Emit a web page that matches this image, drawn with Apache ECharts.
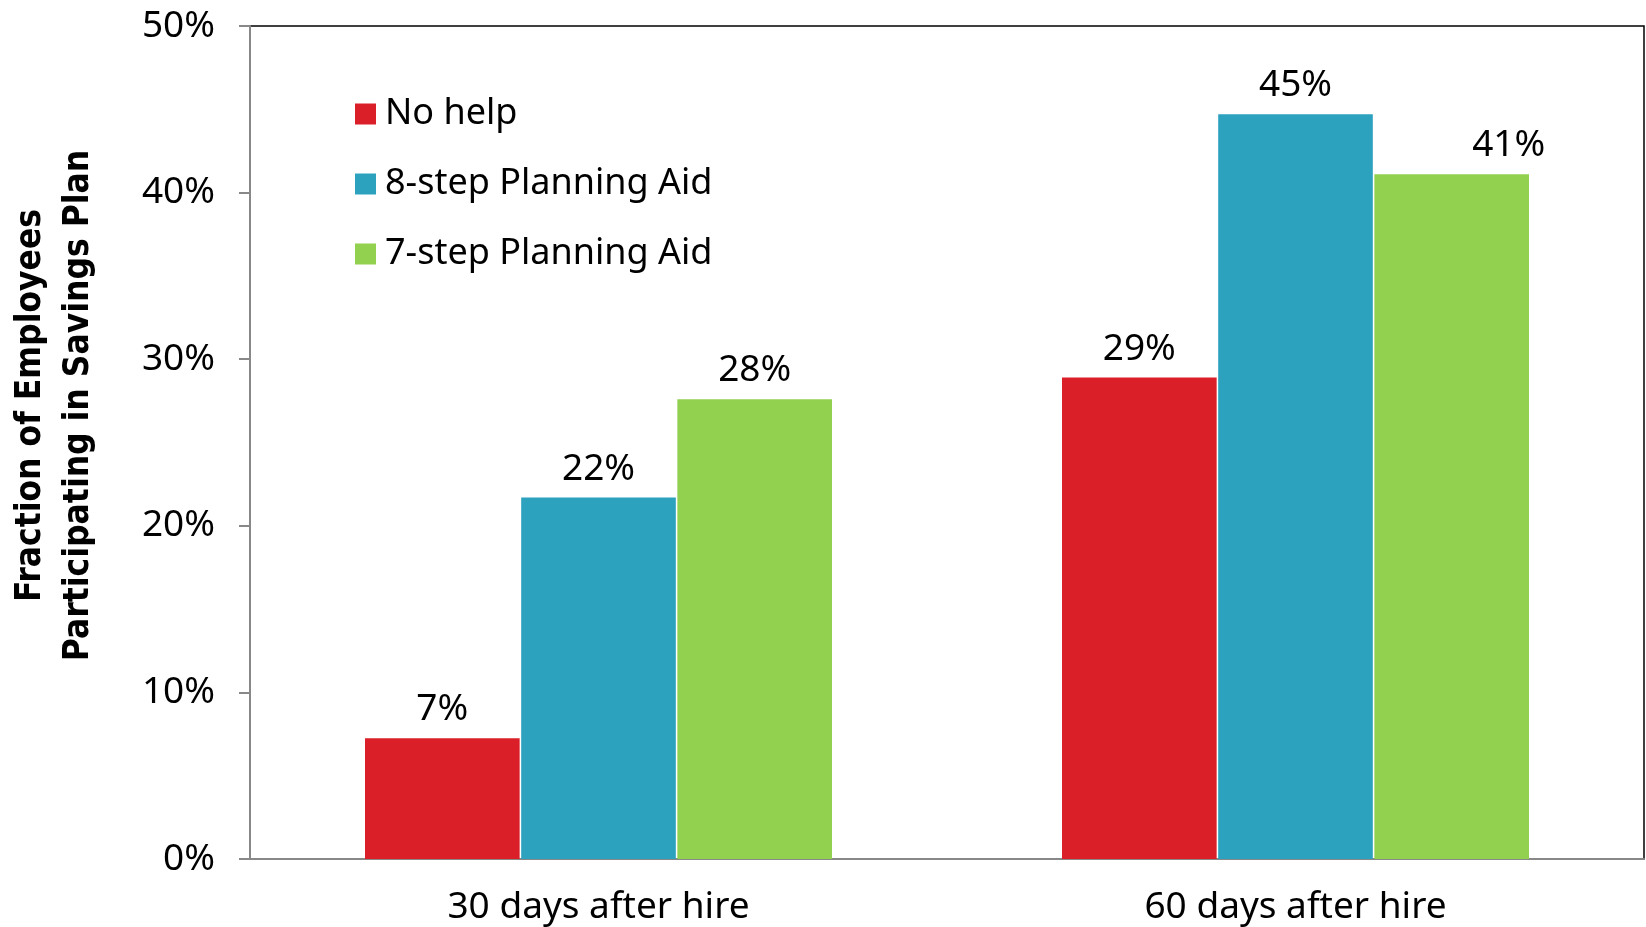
<!DOCTYPE html>
<html>
<head>
<meta charset="utf-8">
<script src="https://cdn.jsdelivr.net/npm/echarts@6/dist/echarts.min.js"></script>
<style>
html,body{margin:0;padding:0;background:#fff;}
#chart{width:1646px;height:927px;}
</style>
</head>
<body>
<div id="chart"></div>
<script>
const categories = ['30 days after hire', '60 days after hire'];
const seriesNames = ['No help', '8-step Planning Aid', '7-step Planning Aid'];
const noHelp = [7.25, 28.9];
const eightStep = [21.7, 44.7];
const sevenStep = [27.6, 41.1];
const valueLabels = [['7%', '29%'], ['22%', '45%'], ['28%', '41%']];
const yTicks = [0, 10, 20, 30, 40, 50];
const colors = ['#DA1F28', '#2DA2BF', '#92D050'];

const FONT = "'Noto Sans', sans-serif";
const chart = echarts.init(document.getElementById('chart'), null, {renderer: 'canvas'});

const valuesList = [noHelp, eightStep, sevenStep];
const series = valuesList.map((vals, si) => ({
  name: seriesNames[si],
  type: 'bar',
  barGap: '1%',
  barCategoryGap: '33%',
  itemStyle: {color: colors[si]},
  data: vals.map((v, ci) => {
    const d = {value: v};
    if (si === 2 && ci === 1) d.label = {offset: [57, 0]};
    return d;
  }),
  label: {
    show: true,
    position: 'top',
    distance: 10,
    fontFamily: FONT,
    fontSize: 37,
    color: '#000',
    formatter: p => valueLabels[si][p.dataIndex]
  }
}));

chart.setOption({
  animation: false,
  backgroundColor: '#fff',
  color: colors,
  grid: {
    left: 250, right: 2, top: 26, bottom: 68,
    outerBoundsMode: 'none',
    containLabel: false,
    show: true, borderColor: '#000', borderWidth: 1.5, backgroundColor: 'transparent'
  },
  legend: {
    orient: 'vertical',
    left: 350, top: 90,
    icon: 'rect',
    itemWidth: 21, itemHeight: 21,
    itemGap: 32,
    textStyle: {fontFamily: FONT, fontSize: 36, color: '#000', lineHeight: 38, padding: [0, 0, 0, 4]},
    data: seriesNames
  },
  xAxis: {
    type: 'category',
    data: categories,
    axisLine: {show: true, lineStyle: {color: '#888', width: 2}},
    axisTick: {show: false},
    axisLabel: {fontFamily: FONT, fontSize: 37, color: '#000', margin: 30}
  },
  yAxis: {
    type: 'value',
    min: yTicks[0], max: yTicks[yTicks.length - 1], interval: 10,
    name: 'Fraction of Employees\nParticipating in Savings Plan',
    nameLocation: 'middle',
    nameRotate: 90,
    nameGap: 147,
    nameTextStyle: {fontFamily: "'DejaVu Sans Condensed', 'Roboto Condensed', 'Roboto', sans-serif", fontWeight: 'bold', fontSize: 35, color: '#000', lineHeight: 48, padding: [0, 0, 0, 74]},
    splitLine: {show: false},
    axisLine: {show: true, lineStyle: {color: '#888', width: 2}},
    axisTick: {show: true, length: 11, lineStyle: {color: '#888', width: 2}},
    axisLabel: {fontFamily: FONT, fontSize: 37, color: '#000', margin: 35, formatter: v => v + '%'}
  },
  series: series
});
</script>
</body>
</html>
